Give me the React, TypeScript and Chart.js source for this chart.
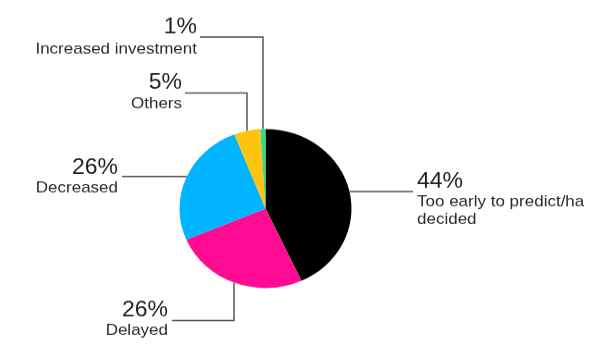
import React, { useEffect, useRef } from "react";
import { Chart, registerables } from "chart.js";

Chart.register(...registerables);

const categories = [
  "Too early to predict/haven't decided",
  "Delayed",
  "Decreased",
  "Others",
  "Increased investment",
];
const values = [44, 26, 26, 5, 1];
const pctLabels = ["44%", "26%", "26%", "5%", "1%"];
const nameLines = [
  ["Too early to predict/haven't", "decided"],
  ["Delayed"],
  ["Decreased"],
  ["Others"],
  ["Increased investment"],
];
const colors = ["#000000", "#FF0A93", "#00B4FF", "#FFC20F", "#35D982"];

const W = 600;
const H_VIEW = 358;
const SY = 0.925;
const H = Math.round(H_VIEW / SY);

// label layout (view coordinates): kind, text anchor, line geometry
type Spec = {
  kind: "h" | "elbowTop" | "elbowBottom";
  align: "left" | "right";
  tx: number;
  pctY: number;
  nameY: number[];
  lineY: number;
  lineX0: number; // text-side end of horizontal segment
  lineX1?: number; // vertical segment x for elbows
};

const specs: Spec[] = [
  { kind: "h", align: "left", tx: 417, pctY: 187.5, nameY: [206.5, 224], lineY: 191.5, lineX0: 413 },
  { kind: "elbowBottom", align: "right", tx: 168, pctY: 316.5, nameY: [335], lineY: 320.5, lineX0: 172, lineX1: 234 },
  { kind: "h", align: "right", tx: 118, pctY: 173.5, nameY: [192.5], lineY: 176.5, lineX0: 122 },
  { kind: "elbowTop", align: "right", tx: 182, pctY: 88.5, nameY: [108], lineY: 93, lineX0: 185, lineX1: 247 },
  { kind: "elbowTop", align: "right", tx: 197, pctY: 33.5, nameY: [53.5], lineY: 37, lineX0: 200, lineX1: 263 },
];

const FONT = '"Liberation Sans", Arial, Helvetica, sans-serif';

const labelPlugin = {
  id: "leaderLabels",
  afterDraw(chart: any) {
    const ctx = chart.ctx as CanvasRenderingContext2D;
    const meta = chart.getDatasetMeta(0);
    ctx.save();
    ctx.beginPath();
    ctx.rect(0, 0, 584, H);
    ctx.clip();
    specs.forEach((s, i) => {
      const arc = meta.data[i] as any;
      const cx = arc.x;
      const cy = arc.y;
      const r = arc.outerRadius;
      const ly = s.lineY / SY;
      ctx.strokeStyle = "#4d4d4d";
      ctx.lineWidth = 1.4;
      ctx.beginPath();
      if (s.kind === "h") {
        const dx = Math.sqrt(Math.max(0, r * r - (ly - cy) * (ly - cy)));
        const ex = s.align === "left" ? cx + dx : cx - dx;
        ctx.moveTo(s.lineX0, ly);
        ctx.lineTo(ex, ly);
      } else {
        const vx = s.lineX1 as number;
        const dy = Math.sqrt(Math.max(0, r * r - (vx - cx) * (vx - cx)));
        const ey = s.kind === "elbowTop" ? cy - dy : cy + dy;
        ctx.moveTo(s.lineX0, ly);
        ctx.lineTo(vx, ly);
        ctx.lineTo(vx, ey);
      }
      ctx.stroke();

      ctx.textAlign = s.align;
      ctx.textBaseline = "alphabetic";
      ctx.fillStyle = "#1e1e1e";
      ctx.font = `400 23px ${FONT}`;
      ctx.fillText(pctLabels[i], s.tx, s.pctY / SY);
      ctx.fillStyle = "#2a2a2a";
      ctx.font = `400 17px ${FONT}`;
      nameLines[i].forEach((t, k) => {
        ctx.fillText(t, s.tx, s.nameY[k] / SY);
      });
    });
    ctx.restore();
  },
};

export default function App() {
  const ref = useRef<HTMLCanvasElement | null>(null);
  useEffect(() => {
    if (!ref.current) return;
    const cxV = 265.5;
    const cyV = 208.5;
    const rad = 86;
    const cyC = cyV / SY;
    const chart = new Chart(ref.current, {
      type: "pie",
      data: {
        labels: categories,
        datasets: [
          {
            data: values,
            backgroundColor: colors,
            borderWidth: 0,
          },
        ],
      },
      options: {
        responsive: false,
        animation: false,
        layout: {
          padding: {
            left: cxV - rad,
            right: W - (cxV + rad),
            top: cyC - rad,
            bottom: H - (cyC + rad),
          },
        },
        plugins: {
          legend: { display: false },
          tooltip: { enabled: false },
        },
      },
      plugins: [labelPlugin],
    });
    return () => chart.destroy();
  }, []);
  return (
    <div style={{ position: "absolute", left: 0, top: 0, width: W, height: H_VIEW, background: "#fff" }}>
      <canvas
        ref={ref}
        width={W}
        height={H}
        style={{ width: W + "px", height: H_VIEW + "px", display: "block" }}
      />
    </div>
  );
}
